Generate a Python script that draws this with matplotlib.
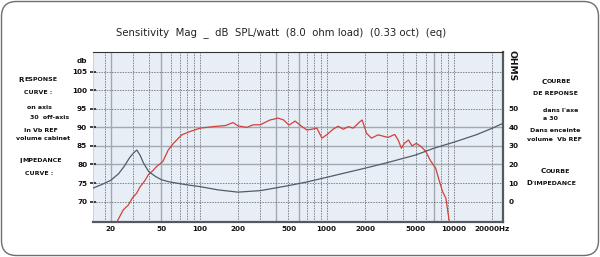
import numpy as np
import matplotlib
matplotlib.use("Agg")
import matplotlib.pyplot as plt
from matplotlib.patches import FancyBboxPatch

# ---- data ----
spl_freq = [22.3, 25.1, 27.5, 29.6, 32, 34, 37, 39.6, 42.7, 45.7, 51.3, 56.6, 62.2, 72.4, 84.2, 101,
            127, 160, 183, 201, 235, 264, 300, 358, 416, 458, 505, 564, 617, 697, 764, 837,
            917, 1000, 1130, 1232, 1350, 1480, 1620, 1820, 1900, 2060, 2250, 2540, 2800, 3040,
            3430, 3650, 3870, 4080, 4400, 4700, 5070, 5450, 5980, 6560, 7200, 7660, 8160, 8670, 9220]
spl_db = [64.5, 67.8, 69.1, 71.0, 72.3, 74.0, 75.6, 77.3, 78.3, 79.4, 80.8, 83.9, 85.7, 88.0, 88.9, 89.8,
          90.2, 90.5, 91.3, 90.4, 90.0, 90.7, 90.7, 92.0, 92.5, 92.0, 90.6, 91.7, 90.6, 89.3, 89.5, 89.8,
          87.1, 88.0, 89.6, 90.3, 89.5, 90.2, 89.8, 91.5, 92.0, 88.4, 87.1, 88.0, 87.6, 87.3,
          88.1, 86.6, 84.4, 85.7, 86.6, 85.0, 85.7, 85.0, 83.7, 81.0, 79.0, 75.8, 72.7, 70.9, 64.6]

imp_freq = [14.4, 17, 20, 23, 25.5, 28, 30, 32, 34, 36, 39.7, 45, 50.4, 58, 66.6, 80, 100, 140, 200,
            300, 500, 700, 1000, 2000, 3000, 5000, 7000, 10000, 15000, 20000, 24400]
imp_ohm = [7.2, 9.2, 11.5, 15.0, 19.0, 23.5, 26.0, 27.8, 25.0, 21.0, 16.2, 13.5, 11.7, 10.6, 9.9, 9.0, 8.1,
           6.3, 5.1, 5.9, 8.6, 10.6, 13.1, 18.0, 21.0, 25.1, 28.8, 32.0, 36.0, 39.5, 42.2]

x_ticks = [20, 50, 100, 200, 500, 1000, 2000, 5000, 10000, 20000]
x_ticklabels = ["20", "50", "100", "200", "500", "1000", "2000", "5000", "10000", "20000Hz"]
db_ticks = [70, 75, 80, 85, 90, 95, 100, 105]
ohm_ticks = [0, 10, 20, 30, 40, 50]

grid_solid_x = [20, 50, 400, 600, 7000]
grid_dash_x = [18, 30, 40, 60, 70, 80, 90, 100, 200, 300, 500, 700, 800, 900, 1000,
               2000, 3000, 4000, 5000, 6000, 8000, 9000, 10000, 20000]
grid_solid_y = [80, 85, 90]
grid_dash_y = [70, 75, 95, 100, 105]

# ---- figure ----
W, H = 600, 257
fig = plt.figure(figsize=(W / 100, H / 100), dpi=100)
fig.patch.set_facecolor("white")

border = FancyBboxPatch((1.5 / W, 1.5 / H), (W - 3) / W, (H - 3) / H,
                        boxstyle="round,pad=0,rounding_size=0.025",
                        transform=fig.transFigure, facecolor="none",
                        edgecolor="#6e6e6e", lw=1.0, mutation_aspect=W / H, zorder=-5)
fig.patches.append(border)

x0, x1, yt, yb = 92.7, 503, 51.7, 222
ax = fig.add_axes([x0 / W, 1 - yb / H, (x1 - x0) / W, (yb - yt) / H])
ax.set_facecolor("#e8eef5")
ax.set_xscale("log")
ax.set_xlim(14.4, 24400)
ax.set_ylim(64.5, 110.4)

gcol = "#5a5e63"
scol = "#a3a9b0"
for f in grid_dash_x:
    ax.axvline(f, color=gcol, lw=0.5, ls=(0, (2.2, 1.6)), zorder=1)
for f in grid_solid_x:
    ax.axvline(f, color=scol, lw=1.0, zorder=1)
for v in grid_dash_y:
    ax.axhline(v, color=gcol, lw=0.5, ls=(0, (2.2, 1.6)), zorder=1)
for v in grid_solid_y:
    ax.axhline(v, color=scol, lw=1.0, zorder=1)

ax.plot(spl_freq, spl_db, color="#d0413c", lw=0.9, zorder=3, clip_on=True)

ax2 = ax.twinx()
ax2.set_ylim(2 * (64.5 - 70), 2 * (110.4 - 70))
ax2.plot(imp_freq, imp_ohm, color="#4f5d6b", lw=0.9, zorder=3)
ax2.set_xscale("log")
ax2.set_xlim(14.4, 24400)

for a in (ax, ax2):
    for s in a.spines.values():
        s.set_visible(False)
ax.spines["top"].set_visible(True)
ax.spines["top"].set_color("#333333")
ax.spines["top"].set_linewidth(0.8)
ax.spines["bottom"].set_visible(True)
ax.spines["bottom"].set_color("#555a60")
ax.spines["bottom"].set_linewidth(1.6)
ax.spines["right"].set_visible(True)
ax.spines["right"].set_color("#555a60")
ax.spines["right"].set_linewidth(1.6)
ax.spines["left"].set_visible(True)
ax.spines["left"].set_color("#c8ccd2")
ax.spines["left"].set_linewidth(0.6)

tfont = dict(family="DejaVu Sans", weight="bold", size=5.2, color="#111111")
ax.set_xticks(x_ticks)
ax.set_xticklabels(x_ticklabels, **tfont)
ax.xaxis.set_minor_locator(matplotlib.ticker.NullLocator())
ax.tick_params(axis="x", length=0, pad=3)
ax.set_yticks(db_ticks)
ax.set_yticklabels([str(v) for v in db_ticks], **tfont)
ax.tick_params(axis="y", length=5, width=1.1, direction="inout", pad=1.5, color="#111111")
ax2.set_yticks(ohm_ticks)
ax2.set_yticklabels([str(v) for v in ohm_ticks], **tfont)
ax2.tick_params(axis="y", length=0, pad=4)
ax2.xaxis.set_minor_locator(matplotlib.ticker.NullLocator())

fig.text(82 / W, 1 - 61 / H, "db", ha="center", va="center", **tfont)
fig.text(512 / W, 1 - 66 / H, "OHMS", ha="center", va="center", rotation=-90,
         family="DejaVu Sans", weight="heavy", size=6.6, color="#111111")

fig.text(281 / W, 1 - 33 / H, "Sensitivity  Mag  _  dB  SPL/watt  (8.0  ohm load)  (0.33 oct)  (eq)",
         ha="center", va="center", family="DejaVu Sans", size=7.3, color="#222222")

renderer = fig.canvas.get_renderer()
BIG, SMALL = 5.1, 4.5


def put(text, x, y, ha, caps=False):
    """Place a label; with caps=True the first letter is drawn larger (small caps)."""
    kw = dict(family="DejaVu Sans", weight="bold", color="#111111", va="center")
    if not caps:
        fig.text(x / W, 1 - y / H, text, ha=ha, size=SMALL, **kw)
        return
    first, rest = text[0], text[1:]
    t1 = fig.text(0, 0, first, size=BIG, **kw)
    t2 = fig.text(0, 0, rest, size=SMALL, **kw)
    w1 = t1.get_window_extent(renderer).width
    w2 = t2.get_window_extent(renderer).width
    total = w1 + w2
    left = x - total / 2 if ha == "center" else x
    t1.set_position((left / W, 1 - (y - 0.2) / H))
    t2.set_position(((left + w1) / W, 1 - y / H))


left_texts = [("RESPONSE", 38, 79.8, "center", True), ("CURVE :", 38.5, 93, "center", False),
              ("on axis", 27.5, 107.3, "left", False), ("30  off-axis", 29.5, 117.5, "left", False),
              ("In Vb REF", 40.5, 130, "center", False), ("volume cabinet", 43, 138.5, "center", False),
              ("IMPEDANCE", 40.5, 161, "center", True), ("CURVE :", 39, 173.5, "center", False)]
for t, x, y, ha, c in left_texts:
    put(t, x, y, ha, c)

right_texts = [("COURBE", 556, 81.7, "center", True), ("DE REPONSE", 555, 93.3, "center", False),
               ("dans l'axe", 543, 110, "left", False), ("a 30", 543, 118.3, "left", False),
               ("Dans enceinte", 555.5, 131, "center", False), ("volume  Vb REF", 554, 139.3, "center", False),
               ("COURBE", 555, 171.5, "center", True), ("D'IMPEDANCE", 551, 183.5, "center", True)]
for t, x, y, ha, c in right_texts:
    put(t, x, y, ha, c)

fig.savefig("out.png", dpi=100, facecolor="white")
